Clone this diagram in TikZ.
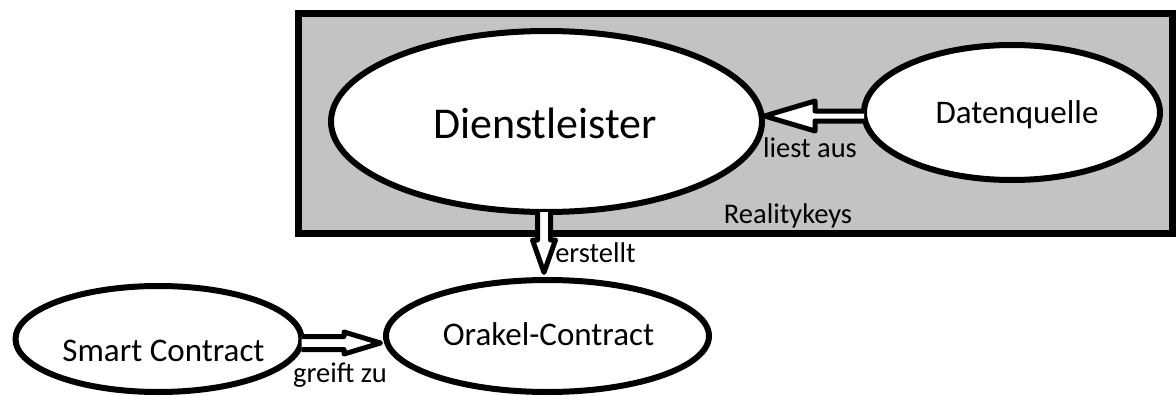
\documentclass[tikz,border=0pt]{standalone}
\usepackage{fontspec}
\setmainfont{Carlito}
\usetikzlibrary{shapes.geometric,calc}
\definecolor{boxgray}{RGB}{195,195,195}
\begin{document}
\begin{tikzpicture}[x=1pt,y=-1pt,
  ell/.style={ellipse,draw=black,fill=white,line width=6pt,inner sep=0pt,outer sep=0pt},
  bigtext/.style={font=\fontsize{44}{50}\selectfont,anchor=base,inner sep=0pt},
  midtext/.style={font=\fontsize{33}{38}\selectfont,anchor=base,inner sep=0pt},
  smalltext/.style={font=\fontsize{28.5}{32}\selectfont,anchor=base,inner sep=0pt},
  hollow/.style={draw=black,fill=white,line width=5pt,line join=round}]
\useasboundingbox (0,0) rectangle (1176,396);
% container
\node[draw=black, line width=7pt, fill=boxgray, minimum width=874, minimum height=219,
      inner sep=0pt, outer sep=0pt, anchor=north west] (rk) at (298,14) {};
% ellipses
\node[ell, minimum width=431, minimum height=181] (dl) at (546.5,121.5) {};
\node[ell, minimum width=296, minimum height=135] (dq) at (1012,112.5) {};
\node[ell, minimum width=286, minimum height=106] (sc) at (158.5,339) {};
\node[ell, minimum width=323, minimum height=112] (oc) at (547.5,336) {};
% texts
\node[bigtext] (tdl) at ($(dl)+(-1.5,16.5)$) {Dienstleister};
\node[midtext] (tdq) at ($(dq)+(5,10.5)$) {Datenquelle};
\node[midtext] (tsc) at ($(sc)+(5,22.7)$) {Smart Contract};
\node[midtext] (toc) at ($(oc)+(1,9)$) {Orakel-Contract};
% hollow arrows
% liest aus
\coordinate (la0) at ($(dq.west)+(0,3.5)$);
\coordinate (la1) at ($(dl.east)+(2.5,-5.5)$);
\filldraw[hollow] ($(la0)+(0,-5)$) -- ($(la1)+(50.5,-5)$) -- ($(la1)+(50.5,-15)$) -- (la1)
  -- ($(la1)+(50.5,15)$) -- ($(la1)+(50.5,5)$) -- ($(la0)+(0,5)$);
% erstellt
\coordinate (er0) at ($(dl.south)+(-2.5,0)$);
\coordinate (er1) at ($(oc.north)+(-3.5,-7.5)$);
\filldraw[hollow] ($(er0)+(-6.5,0)$) -- ($(er1)+(-6.5,-32.5)$) -- ($(er1)+(-11.5,-32.5)$) -- (er1)
  -- ($(er1)+(11.5,-32.5)$) -- ($(er1)+(6.5,-32.5)$) -- ($(er0)+(6.5,0)$);
% greift zu
\coordinate (gz0) at ($(sc.east)+(0,4)$);
\coordinate (gz1) at ($(oc.west)+(-5.5,7)$);
\filldraw[hollow] ($(gz0)+(0,-6.5)$) -- ($(gz1)+(-36.5,-6.5)$) -- ($(gz1)+(-36.5,-11)$) -- (gz1)
  -- ($(gz1)+(-36.5,11)$) -- ($(gz1)+(-36.5,6.5)$) -- ($(gz0)+(0,6.5)$);
% labels
\node[smalltext] (lrk) at (788,223) {Realitykeys};
\node[smalltext] (lla) at (810,157) {liest aus};
\node[smalltext] (ler) at (595.5,262) {erstellt};
\node[smalltext] (lgz) at (340,382) {greift zu};
\end{tikzpicture}
\end{document}
